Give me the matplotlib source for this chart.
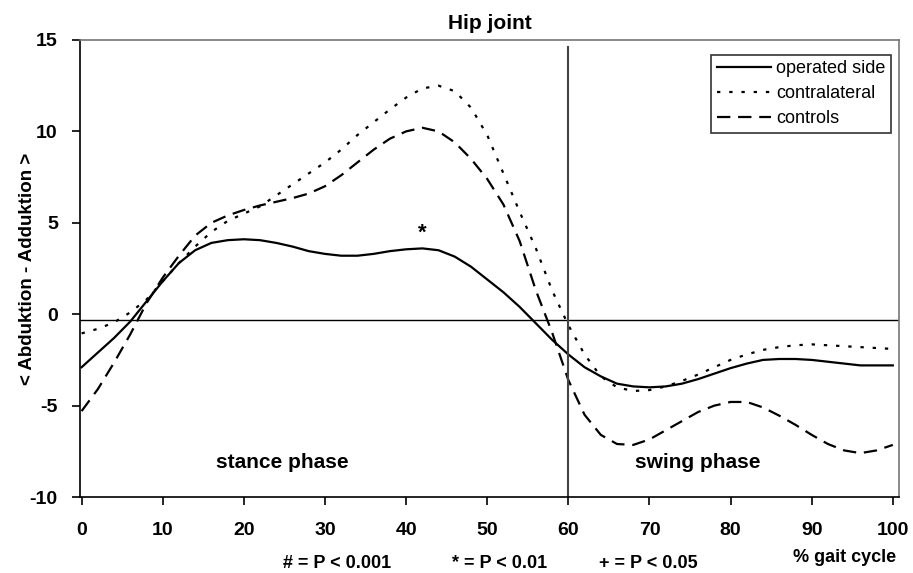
import matplotlib
matplotlib.use("Agg")
import matplotlib.pyplot as plt
import numpy as np

plt.rcParams['font.family'] = ['Liberation Sans', 'DejaVu Sans']
plt.rcParams['axes.unicode_minus'] = False

gait = list(range(0, 101, 2))
operated = [-2.9, -2.1, -1.3, -0.4, 0.7, 1.8, 2.8, 3.5, 3.9, 4.05, 4.1, 4.05, 3.9, 3.7, 3.45,
            3.3, 3.2, 3.2, 3.3, 3.45, 3.55, 3.6, 3.5, 3.15, 2.6, 1.9, 1.2, 0.4, -0.5, -1.4,
            -2.2, -2.9, -3.4, -3.8, -3.95, -4.0, -3.95, -3.8, -3.55, -3.25, -2.95, -2.7, -2.5,
            -2.45, -2.45, -2.5, -2.6, -2.7, -2.8, -2.8, -2.8]
contralateral = [-1.05, -0.8, -0.45, 0.1, 0.8, 1.8, 2.8, 3.7, 4.5, 5.1, 5.5, 5.9, 6.5, 7.1, 7.7,
                 8.3, 9.0, 9.8, 10.5, 11.2, 11.85, 12.35, 12.5, 12.2, 11.3, 9.8, 7.7, 5.6, 3.6,
                 1.3, -0.6, -2.2, -3.4, -4.0, -4.2, -4.15, -3.95, -3.65, -3.3, -2.9, -2.5, -2.2,
                 -1.95, -1.8, -1.7, -1.65, -1.7, -1.75, -1.8, -1.85, -1.9]
controls = [-5.3, -4.1, -2.65, -1.1, 0.6, 2.0, 3.2, 4.3, 5.0, 5.4, 5.7, 5.95, 6.15, 6.35, 6.6,
            7.0, 7.6, 8.3, 9.0, 9.6, 10.0, 10.2, 10.0, 9.4, 8.5, 7.4, 6.0, 4.0, 1.3, -1.0,
            -3.6, -5.5, -6.6, -7.1, -7.15, -6.85, -6.35, -5.85, -5.35, -5.0, -4.8, -4.8, -5.1,
            -5.55, -6.05, -6.6, -7.1, -7.45, -7.6, -7.45, -7.15]

x_ticks = [0, 10, 20, 30, 40, 50, 60, 70, 80, 90, 100]
y_ticks = [-10, -5, 0, 5, 10, 15]

fig = plt.figure(figsize=(9.13, 5.73), dpi=100)
ax = fig.add_axes([0.0876, 0.1326, 0.8974, 0.7976])

ax.plot(gait, operated, color='black', lw=1.6, label='operated side')
ax.plot(gait, contralateral, color='black', lw=1.6, linestyle=(0, (1.5, 4)), label='contralateral')
ax.plot(gait, controls, color='black', lw=1.6, linestyle=(0, (6, 3.5)), label='controls')

ax.axhline(-0.3, color='black', lw=1.0)
ax.axvline(60, ymin=0, ymax=0.985, color='#444444', lw=1.5)

ax.set_xlim(-0.2, 100.8)
ax.set_ylim(-10, 15)
ax.set_xticks(x_ticks)
ax.set_yticks(y_ticks)
ax.tick_params(axis='both', direction='out', length=6, width=1.2, labelsize=14)
ax.tick_params(axis='x', pad=12)
ax.tick_params(axis='y', pad=10)
for lab in ax.get_xticklabels() + ax.get_yticklabels():
    lab.set_fontweight('bold')

ax.spines['left'].set_color('black')
ax.spines['bottom'].set_color('black')
ax.spines['top'].set_color('#777777')
ax.spines['right'].set_color('#777777')
for s in ax.spines.values():
    s.set_linewidth(1.2)

ax.set_title('Hip joint', fontsize=15, fontweight='bold', pad=8)
ax.set_ylabel('< Abduktion - Adduktion >', fontsize=13.5, fontweight='bold')
ax.yaxis.set_label_coords(-0.054, 0.5)

ax.text(24.7, -8.1, 'stance phase', fontsize=15, fontweight='bold', ha='center', va='center')
ax.text(76, -8.1, 'swing phase', fontsize=15, fontweight='bold', ha='center', va='center')
ax.text(42, 4.45, '*', fontsize=16, fontweight='bold', ha='center', va='center')

leg = ax.legend(loc='upper right', bbox_to_anchor=(0.99, 0.968), fontsize=13, frameon=True,
                fancybox=False, edgecolor='black', handlelength=3.0, handletextpad=0.3,
                borderpad=0.3, labelspacing=0.45, borderaxespad=0)
leg.get_frame().set_linewidth(1.2)

fig.text(337 / 913, 1 - 563 / 573, '# = P < 0.001', fontsize=13, fontweight='bold', ha='center', va='center')
fig.text(500 / 913, 1 - 563 / 573, '* = P < 0.01', fontsize=13, fontweight='bold', ha='center', va='center')
fig.text(648 / 913, 1 - 563 / 573, '+ = P < 0.05', fontsize=13, fontweight='bold', ha='center', va='center')
fig.text(845 / 913, 1 - 557 / 573, '% gait cycle', fontsize=13, fontweight='bold', ha='center', va='center')

fig.savefig('out.png', dpi=100)
